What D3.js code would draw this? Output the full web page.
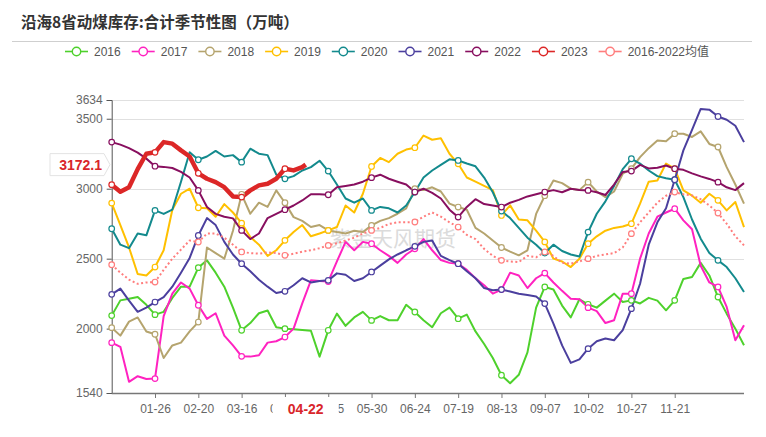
<!DOCTYPE html>
<html><head><meta charset="utf-8">
<script src="https://cdn.jsdelivr.net/npm/d3@7"></script>
<style>body{margin:0;background:#fff}svg{display:block}</style>
</head><body><svg id="c" width="766" height="437"></svg>
<script>
// ---- data ----
const sampleDays = d3.range(0, 366, 5); // day index within year (every 5 days)
const s2016 = [2093,2202,2214,2226,2170,2100,2120,2220,2300,2300,
2436,2488,2400,2300,2150,1988,2040,2110,2130,2010,
2000,1995,1990,1985,1800,1988,2107,2020,2080,2120,
2059,2090,2060,2060,2170,2119,2060,2010,2110,2150,
2071,2100,1980,1890,1790,1667,1610,1670,1830,2150,
2298,2280,2165,2080,2210,2174,2150,2200,2250,2190,
2202,2180,2220,2200,2131,2202,2355,2369,2470,2380,
2226,2107,2000,1881];
const s2017 = [1900,1870,1620,1660,1640,1643,2090,2250,2330,2286,
2167,2070,2110,1950,1880,1802,1800,1810,1900,1910,
1940,2000,2180,2345,2340,2336,2480,2620,2560,2620,
2607,2560,2520,2470,2530,2571,2640,2560,2490,2470,
2464,2420,2360,2310,2250,2279,2400,2380,2290,2360,
2397,2330,2270,2214,2210,2150,2125,2040,2060,2250,
2250,2500,2680,2800,2830,2857,2774,2710,2450,2330,
2298,2155,1917,2024];
const s2018 = [2007,1950,2050,2080,1980,1960,1790,1880,1900,1980,
2047,2580,2540,2500,2700,2960,2821,2900,2870,2988,
2900,2797,2770,2726,2740,2702,2690,2680,2700,2690,
2738,2770,2790,2821,2860,3000,2990,3010,2980,2893,
2869,2850,2720,2680,2630,2580,2550,2524,2560,2820,
2950,3059,3040,3000,2990,3047,2980,2940,2980,3107,
3143,3226,3290,3345,3340,3393,3393,3370,3410,3320,
3298,3154,3030,2893];
const s2019 = [2897,2740,2580,2390,2380,2440,2560,2850,2964,3000,
2864,2860,2800,2890,2830,2754,2655,2600,2520,2560,
2631,2690,2740,2660,2680,2702,2726,2880,2830,2964,
3159,3220,3190,3250,3280,3293,3380,3350,3360,3250,
3178,3080,3050,3020,2990,2809,2881,2780,2774,2700,
2620,2500,2480,2440,2500,2607,2660,2700,2720,2730,
2750,2893,3050,3059,3180,3143,2988,2950,2900,2964,
2917,2845,2905,2726];
const s2020 = [2714,2600,2575,2680,2667,2845,2820,2850,3050,3260,
3207,3230,3270,3230,3240,3190,3286,3250,3240,3100,
3071,3090,3130,3154,3200,3126,3030,2930,2900,2930,
2845,2870,2860,2830,2880,2976,3080,3130,3170,3210,
3202,3180,3160,3080,2975,2840,2790,2720,2650,2600,
2540,2600,2555,2530,2515,2690,2821,2910,3020,3140,
3214,3180,3130,3090,3075,3064,2940,2780,2643,2540,
2488,2440,2360,2262];
const s2021 = [2245,2286,2200,2120,2150,2190,2225,2300,2400,2505,
2666,2790,2740,2620,2530,2464,2410,2350,2300,2255,
2267,2310,2360,2330,2340,2345,2395,2385,2340,2360,
2405,2450,2495,2530,2560,2588,2620,2630,2520,2490,
2464,2410,2360,2290,2275,2279,2265,2250,2240,2230,
2179,2036,1880,1755,1780,1857,1910,1929,1917,1990,
2143,2321,2600,2760,2860,3064,3274,3420,3570,3565,
3516,3493,3450,3333];
const s2022 = [3333,3315,3290,3258,3215,3161,3156,3148,3120,3080,
2988,2869,2820,2800,2788,2702,2640,2680,2790,2820,
2850,2880,2916,2960,2960,2957,3011,3020,3030,3050,
3079,3100,3071,3050,3030,2976,3000,2970,2930,2850,
2797,2870,2925,2890,2880,2869,2900,2920,2945,2960,
2976,2990,2975,3000,2990,2988,2975,2955,3030,3120,
3126,3170,3145,3150,3166,3143,3135,3110,3088,3070,
3047,3010,2990,3040];
const sMean = [2457,2400,2350,2320,2330,2333,2420,2500,2565,2630,
2619,2679,2680,2650,2600,2548,2540,2536,2545,2540,
2524,2535,2550,2560,2575,2595,2610,2630,2650,2680,
2702,2720,2748,2760,2760,2762,2800,2830,2800,2760,
2726,2670,2640,2570,2520,2488,2480,2476,2520,2510,
2548,2520,2470,2465,2480,2500,2520,2530,2540,2580,
2679,2760,2830,2900,2950,2976,2960,2952,2925,2880,
2826,2750,2660,2595];
const days2023 = [0,5,10,15,20,25,30,35,40,45,50,55,60,65,70,75,80,85,90,95,100,105,110,112];
const s2023 = [3029,2978,3010,3140,3250,3260,3333,3322,3274,3230,3110,3071,3047,3011,2945,2940,2988,3024,3036,3071,3143,3131,3154,3172.1];

const seriesNames = ["2016","2017","2018","2019","2020","2021","2022","2023","2016-2022均值"];
const seriesColors = ["#4ed12c","#ff22c0","#b5a46e","#ffc000","#138a8d","#4b3f9e","#880f5f","#dc2727","#ff7d7d"];
const yTicks = [1540,2000,2500,3000,3500,3634];
const xTickDays = [25,50,75,100,125,150,175,200,225,250,275,300,325];
const xTickLabels = ["01-26","02-20","03-16","04-10","05-05","05-30","06-24","07-19","08-13","09-07","10-02","10-27","11-21"];
const pointerDay = 112, pointerLabel = "04-22", pointerValue = 3172.1;
const titleText = "沿海8省动煤库存:合计季节性图（万吨）";
const watermark = "紫金天风期货";

// ---- drawing ----
const svg = d3.select("#c");
const FONT = "'Liberation Sans', Arial, 'Noto Sans CJK SC', sans-serif";
const x = d3.scaleLinear().domain([0, 365]).range([111.7, 744]);
const y = d3.scaleLinear().domain([1540, 3634]).range([393, 100]);

// title
svg.append("text").attr("x", 21).attr("y", 28).text(titleText)
  .attr("font-family", "'Noto Sans CJK SC', sans-serif").attr("font-weight", "bold")
  .attr("font-size", 15.5).attr("fill", "#333");
svg.append("line").attr("x1", 12).attr("x2", 752).attr("y1", 41.5).attr("y2", 41.5)
  .attr("stroke", "#cfcfcf").attr("stroke-width", 1);

// legend
const leg = svg.append("g");
let lx = 65;
seriesNames.forEach((n, i) => {
  const g = leg.append("g");
  g.append("line").attr("x1", lx).attr("x2", lx + 23).attr("y1", 51.5).attr("y2", 51.5)
    .attr("stroke", seriesColors[i]).attr("stroke-width", 1.6);
  g.append("circle").attr("cx", lx + 11.5).attr("cy", 51.5).attr("r", 4.2)
    .attr("fill", "#fff").attr("stroke", seriesColors[i]).attr("stroke-width", 1.4);
  const t = g.append("text").attr("x", lx + 29).attr("y", 56).text(n)
    .attr("font-family", FONT).attr("font-size", 12).attr("fill", "#555");
  lx += 29 + t.node().getComputedTextLength() + 11;
});

// grid
svg.append("g").selectAll("line").data(yTicks).join("line")
  .attr("x1", 111.7).attr("x2", 744).attr("y1", d => Math.round(y(d)) + 0.5).attr("y2", d => Math.round(y(d)) + 0.5)
  .attr("stroke", "#e0e0e0");

// watermark
svg.append("text").attr("x", 393).attr("y", 246).attr("text-anchor", "middle").text(watermark)
  .attr("font-family", "'Noto Sans CJK SC', sans-serif").attr("font-size", 21)
  .attr("fill", "#b0b0b0").attr("opacity", 0.45);

// axes
const yAxis = d3.axisLeft(y).tickValues(yTicks).tickSize(5).tickPadding(4).tickFormat(d3.format("d"));
const gy = svg.append("g").attr("transform", "translate(111.7,0)").call(yAxis);
gy.select(".domain").attr("stroke", "#555");
gy.selectAll(".tick line").attr("stroke", "#555");
gy.selectAll("text").attr("font-family", FONT).attr("font-size", 12).attr("fill", "#666");

const xAxis = d3.axisBottom(x).tickValues(xTickDays).tickSize(5).tickPadding(6)
  .tickFormat((d, i) => xTickLabels[i]);
const gx = svg.append("g").attr("transform", "translate(0,393)").call(xAxis);
gx.select(".domain").attr("stroke", "#777").attr("stroke-width", 1.5).attr("d", "M111.7,0.5H744");
gx.selectAll(".tick line").attr("stroke", "#777");
gx.selectAll("text").attr("font-family", FONT).attr("font-size", 12).attr("fill", "#666");

// series
const allSeries = [s2016, s2017, s2018, s2019, s2020, s2021, s2022];
const line = d3.line().x(d => x(d[0])).y(d => y(d[1])).curve(d3.curveLinear);
const plot = svg.append("g");
function drawSeries(days, vals, color, width, dash) {
  const pts = days.map((d, i) => [d, vals[i]]);
  plot.append("path").datum(pts).attr("d", line).attr("fill", "none")
    .attr("stroke", color).attr("stroke-width", width).attr("stroke-linejoin", "round")
    .attr("stroke-dasharray", dash || null);
  return pts;
}
const markerSets = [];
allSeries.forEach((vals, i) => {
  markerSets.push([drawSeries(sampleDays, vals, seriesColors[i], 2), seriesColors[i]]);
});
markerSets.push([drawSeries(sampleDays, sMean, seriesColors[8], 2, "2,2.5"), seriesColors[8]]);
markerSets.push([drawSeries(days2023, s2023, seriesColors[7], 4.5), seriesColors[7]]);
markerSets.forEach(([pts, color]) => {
  plot.append("g").selectAll("circle").data(pts.filter(p => p[0] % 25 === 0 && p[0] <= 350)).join("circle")
    .attr("cx", d => x(d[0])).attr("cy", d => y(d[1])).attr("r", 2.8)
    .attr("fill", "#fff").attr("stroke", color).attr("stroke-width", 1.2);
});

// axis pointer labels
const px = x(pointerDay);
svg.append("rect").attr("x", px - 33).attr("y", 397).attr("width", 66).attr("height", 24).attr("fill", "#fff");
svg.append("text").attr("x", px).attr("y", 414).attr("text-anchor", "middle").text(pointerLabel)
  .attr("font-family", FONT).attr("font-weight", "bold").attr("font-size", 14).attr("fill", "#d9262b");
const py = y(pointerValue);
svg.append("path")
  .attr("d", `M50,${py - 11}H104L110,${py}L104,${py + 11}H50Z`)
  .attr("fill", "#fff").attr("stroke", "#e3e3e3").attr("stroke-width", 1);
svg.append("text").attr("x", 102).attr("y", py + 5).attr("text-anchor", "end").text(String(pointerValue))
  .attr("font-family", FONT).attr("font-weight", "bold").attr("font-size", 14).attr("fill", "#d9262b");
</script></body></html>
